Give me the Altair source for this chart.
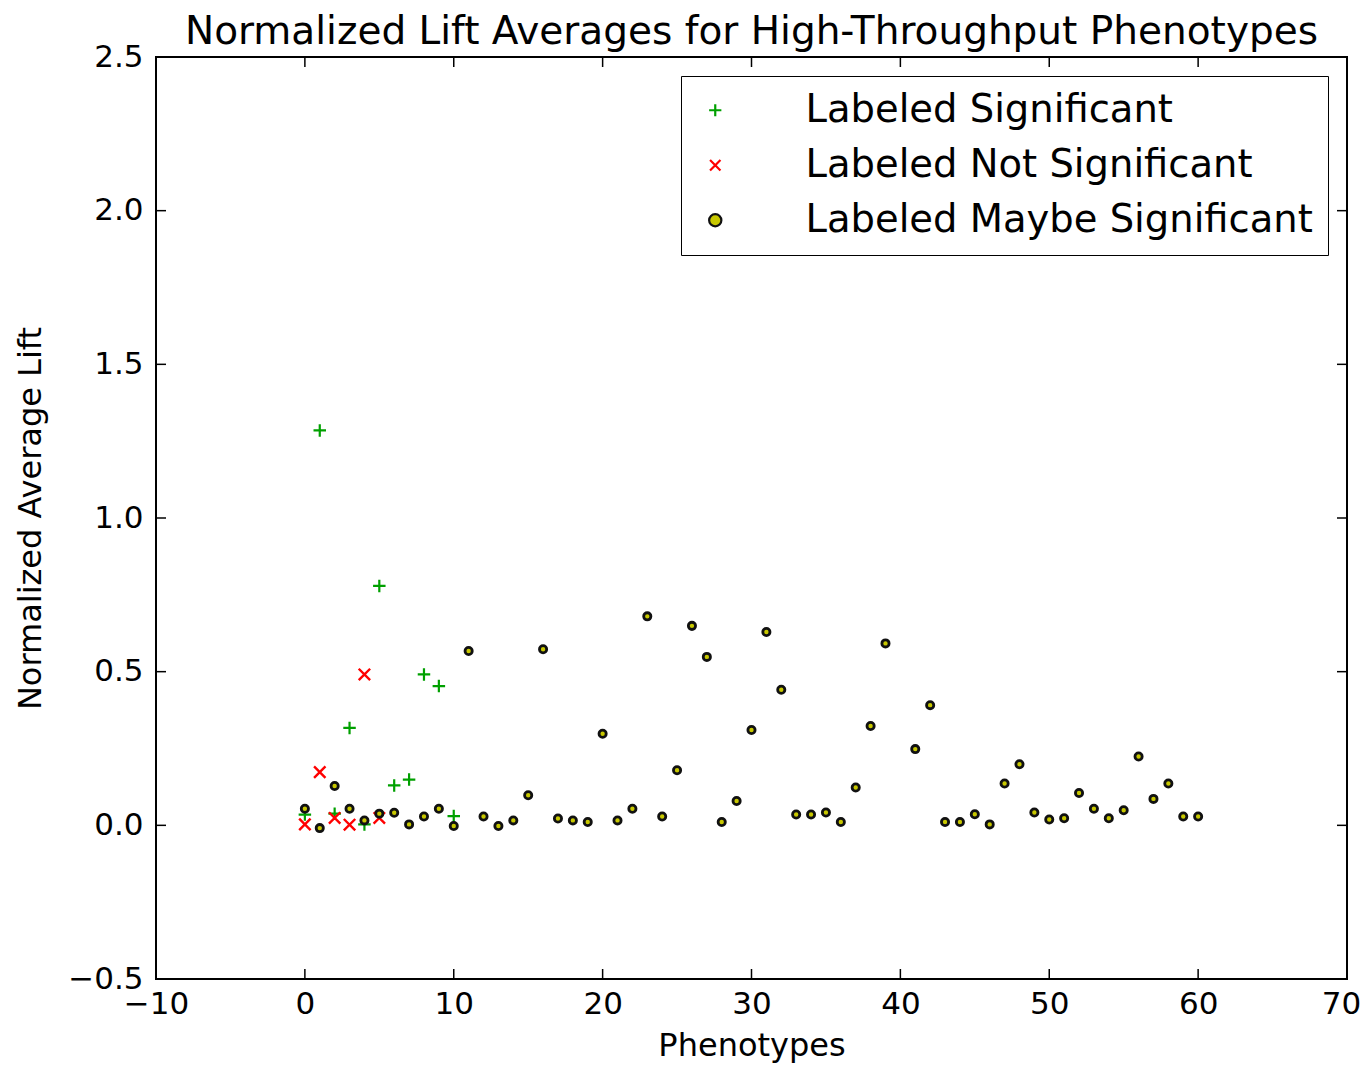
import altair as alt
import pandas as pd

# ---- data ----
sig_x = [0, 1, 2, 3, 4, 5, 6, 7, 8, 9, 10]
sig_y = [0.035, 1.285, 0.038, 0.317, 0.003, 0.779, 0.130, 0.149, 0.491, 0.453, 0.030]

not_x = [0, 1, 2, 3, 4, 5]
not_y = [0.003, 0.173, 0.024, 0.002, 0.491, 0.024]

maybe_x = list(range(0, 40)) + list(range(41, 61))
maybe_y = [0.054, -0.009, 0.128, 0.054, 0.016, 0.038, 0.041, 0.003, 0.029, 0.054,
           -0.002, 0.567, 0.029, -0.002, 0.016, 0.098, 0.573, 0.022, 0.016, 0.011,
           0.298, 0.016, 0.054, 0.680, 0.029, 0.179, 0.649, 0.548, 0.011, 0.079,
           0.310, 0.629, 0.441, 0.035, 0.035, 0.042, 0.011, 0.123, 0.323, 0.592,
           0.248, 0.391, 0.011, 0.011, 0.036, 0.003, 0.136, 0.199, 0.042, 0.019,
           0.023, 0.105, 0.054, 0.023, 0.049, 0.224, 0.086, 0.136, 0.029, 0.029]

labels = ["Labeled Significant", "Labeled Not Significant", "Labeled Maybe Significant"]
x_ticks = [-10, 0, 10, 20, 30, 40, 50, 60, 70]
y_ticks = [-0.5, 0.0, 0.5, 1.0, 1.5, 2.0, 2.5]

W, H = 1191, 922
FONT = "DejaVu Sans"

df_sig = pd.DataFrame({"x": sig_x, "y": sig_y, "label": labels[0]})
df_not = pd.DataFrame({"x": not_x, "y": not_y, "label": labels[1]})
df_maybe = pd.DataFrame({"x": maybe_x, "y": maybe_y, "label": labels[2]})

xscale = alt.Scale(domain=[-10, 70], nice=False, zero=False)
yscale = alt.Scale(domain=[-0.5, 2.5], nice=False, zero=False)

plus_path = "M-1,0L1,0M0,-1L0,1"
x_path = "M-0.85,-0.85L0.85,0.85M0.85,-0.85L-0.85,0.85"

leg = alt.Legend(title=None, orient="top-right", offset=19)

x_enc = alt.X("x:Q", scale=xscale,
              axis=alt.Axis(title="Phenotypes", values=x_ticks, format="d", ticks=False,
                            domain=False, grid=False, labelPadding=10, titlePadding=11,
                            labelFlush=False,
                            labelOffset={"condition": {"test": "datum.value == 70", "value": -6},
                                         "value": 0}))
y_enc = alt.Y("y:Q", scale=yscale,
              axis=alt.Axis(title="Normalized Average Lift", values=y_ticks, format=".1f",
                            ticks=False, domain=False, grid=False, labelPadding=13,
                            labelFlush=False, titleX=-109, titleY=H / 2))
shape_enc = alt.Shape("label:N", scale=alt.Scale(domain=labels, range=[plus_path, x_path, "circle"]),
                      legend=leg)
stroke_enc = alt.Stroke("label:N", scale=alt.Scale(domain=labels, range=["#00a000", "#ff0000", "#111111"]),
                        legend=leg)
fill_enc = alt.Fill("label:N", scale=alt.Scale(domain=labels, range=["transparent", "transparent", "#c8c800"]),
                    legend=leg)


def layer(d, size, sw):
    return alt.Chart(d).mark_point(opacity=1, size=size, strokeWidth=sw).encode(
        x=x_enc, y=y_enc, shape=shape_enc, stroke=stroke_enc, fill=fill_enc)


pts_sig = layer(df_sig, 156, 2.2)
pts_not = layer(df_not, 180, 2.4)
pts_maybe = layer(df_maybe, 52, 2.8)

xt = pd.DataFrame({"t": x_ticks})
yt = pd.DataFrame({"t": y_ticks})
tick_len = 10
bottom_ticks = alt.Chart(xt).mark_rule(color="black", strokeWidth=1.5).encode(
    x=alt.X("t:Q", scale=xscale), y=alt.value(H), y2=alt.value(H - tick_len))
top_ticks = alt.Chart(xt).mark_rule(color="black", strokeWidth=1.5).encode(
    x=alt.X("t:Q", scale=xscale), y=alt.value(0), y2=alt.value(tick_len))
left_ticks = alt.Chart(yt).mark_rule(color="black", strokeWidth=1.5).encode(
    y=alt.Y("t:Q", scale=yscale), x=alt.value(0), x2=alt.value(tick_len))
right_ticks = alt.Chart(yt).mark_rule(color="black", strokeWidth=1.5).encode(
    y=alt.Y("t:Q", scale=yscale), x=alt.value(W), x2=alt.value(W - tick_len))

chart = alt.layer(bottom_ticks, top_ticks, left_ticks, right_ticks,
                  pts_sig, pts_not, pts_maybe).properties(
    width=W, height=H,
    title=alt.TitleParams("Normalized Lift Averages for High-Throughput Phenotypes",
                          fontSize=39, font=FONT, fontWeight="normal", color="black",
                          offset=-11),
    autosize=alt.AutoSizeParams(type="none"),
    padding={"left": 148, "top": 49, "right": 14, "bottom": 84},
).configure_view(
    stroke="black", strokeWidth=2
).configure_axis(
    labelFont=FONT, titleFont=FONT, labelFontSize=31, titleFontSize=32,
    labelColor="black", titleColor="black", titleFontWeight="normal"
).configure_legend(
    labelFont=FONT, labelFontSize=38.5, labelColor="black", strokeColor="black",
    padding=15, rowPadding=16, symbolStrokeWidth=2.2, symbolSize=150,
    labelOffset=71, fillColor="white", labelLimit=1000
)

chart.save("out.html", embed_options={"renderer": "svg", "actions": False})
